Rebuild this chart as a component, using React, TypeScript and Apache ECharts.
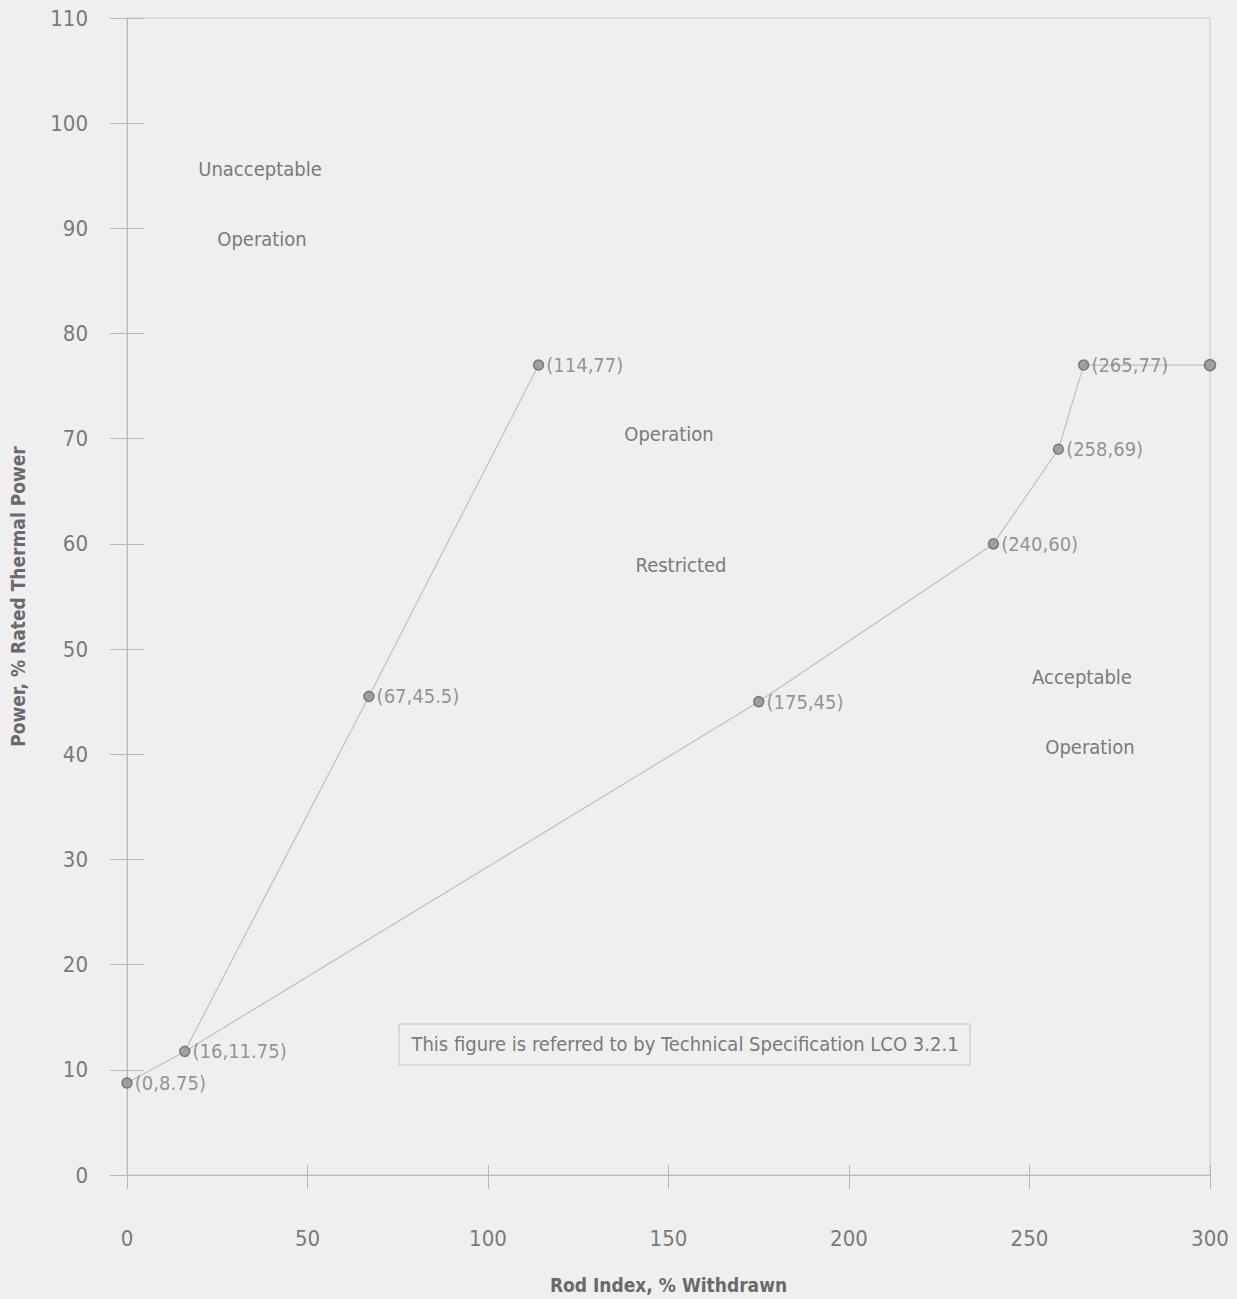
import React, { useEffect, useRef } from "react";
import * as echarts from "echarts";

const xTicks = [0, 50, 100, 150, 200, 250, 300];
const yTicks = [0, 10, 20, 30, 40, 50, 60, 70, 80, 90, 100, 110];
const leftLine: [number, number][] = [[0, 8.75], [16, 11.75], [67, 45.5], [114, 77]];
const rightLine: [number, number][] = [[16, 11.75], [175, 45], [240, 60], [258, 69], [265, 77], [300, 77]];
const labeledPoints: [number, number][] = [[0, 8.75], [16, 11.75], [67, 45.5], [114, 77], [175, 45], [240, 60], [258, 69], [265, 77]];
const endPoints: [number, number][] = [[300, 77]];
const regionTexts: { text: string; x: number; y: number }[] = [
  { text: "Unacceptable", x: 260, y: 169 },
  { text: "Operation", x: 262, y: 239 },
  { text: "Operation", x: 669, y: 434 },
  { text: "Restricted", x: 681, y: 565 },
  { text: "Acceptable", x: 1082, y: 677 },
  { text: "Operation", x: 1090, y: 747 },
];
const noteText = "This figure is referred to by Technical Specification LCO 3.2.1";
const xName = "Rod Index, % Withdrawn";
const yName = "Power, % Rated Thermal Power";

const FONT = "'Liberation Sans Narrow', 'DejaVu Sans Condensed', 'Roboto Condensed', sans-serif";
const TXT = "#7a7a7a";

export default function App() {
  const ref = useRef<HTMLDivElement>(null);
  useEffect(() => {
    document.body.style.margin = "0";
    const chart = echarts.init(ref.current!, null, { renderer: "svg" });
    const axisLineStyle = { color: "#b8b8b8", width: 1 };
    chart.setOption({
      animation: false,
      backgroundColor: "#efefef",
      grid: {
        left: 127, right: 27, top: 18, bottom: 124, show: true,
        borderColor: "#c8c8c8", borderWidth: 1, backgroundColor: "transparent",
        containLabel: false, outerBoundsMode: "none",
      },
      xAxis: [
        {
          type: "value", min: 0, max: 300, interval: 50,
          axisLine: { show: true, lineStyle: axisLineStyle },
          axisTick: { show: true, length: 14, lineStyle: axisLineStyle },
          axisLabel: { margin: 52, fontSize: 22, color: TXT, fontFamily: FONT },
          splitLine: { show: false },
          name: xName, nameLocation: "middle", nameGap: 100,
          nameTextStyle: { fontSize: 19, fontWeight: "bold", color: "#6a6a6a", fontFamily: FONT },
        },
        {
          type: "value", min: 0, max: 300, interval: 50, position: "bottom",
          axisLine: { show: false }, axisLabel: { show: false },
          axisTick: { show: true, inside: true, length: 10, lineStyle: axisLineStyle },
          splitLine: { show: false },
        },
      ],
      yAxis: [
        {
          type: "value", min: 0, max: 110, interval: 10,
          axisLine: { show: true, lineStyle: axisLineStyle },
          axisTick: { show: true, length: 17, lineStyle: axisLineStyle },
          axisLabel: { margin: 39, fontSize: 22, color: TXT, fontFamily: FONT },
          splitLine: { show: false },
          name: yName, nameLocation: "middle", nameGap: 100,
          nameTextStyle: { fontSize: 19, fontWeight: "bold", color: "#6a6a6a", fontFamily: FONT },
        },
        {
          type: "value", min: 0, max: 110, interval: 10, position: "left",
          axisLine: { show: false }, axisLabel: { show: false },
          axisTick: { show: true, inside: true, length: 17, lineStyle: axisLineStyle },
          splitLine: { show: false },
        },
      ],
      series: [
        {
          type: "line", data: leftLine, symbol: "none",
          lineStyle: { color: "#c0c0c0", width: 1.2 },
        },
        {
          type: "line", data: rightLine, symbol: "none",
          lineStyle: { color: "#c0c0c0", width: 1.2 },
        },
        {
          type: "scatter", data: labeledPoints, symbol: "circle", symbolSize: 10,
          itemStyle: { color: "#8e8e8e", borderColor: "#666666", borderWidth: 1.5 },
          label: {
            show: true, position: "right", distance: 2,
            formatter: (p: any) => `(${p.value[0]},${p.value[1]})`,
            fontSize: 20, color: TXT, fontFamily: FONT,
          },
          z: 5,
        },
        {
          type: "scatter", data: endPoints, symbol: "circle", symbolSize: 11,
          itemStyle: { color: "#8e8e8e", borderColor: "#666666", borderWidth: 1.5 },
          z: 5,
        },
      ],
      graphic: [
        ...regionTexts.map((t) => ({
          type: "text", x: t.x, y: t.y,
          style: { text: t.text, fontSize: 20, fill: TXT, fontFamily: FONT, align: "center", verticalAlign: "middle" },
          z: 10,
        })),
        {
          type: "rect", shape: { x: 399, y: 1024, width: 571, height: 41 },
          style: { fill: "none", stroke: "#c4c4c4", lineWidth: 1 }, z: 10,
        },
        {
          type: "text", x: 685, y: 1044,
          style: { text: noteText, fontSize: 20, fill: TXT, fontFamily: FONT, align: "center", verticalAlign: "middle" },
          z: 10,
        },
      ],
    });
    return () => chart.dispose();
  }, []);
  return <div ref={ref} style={{ width: 1237, height: 1299 }} />;
}
